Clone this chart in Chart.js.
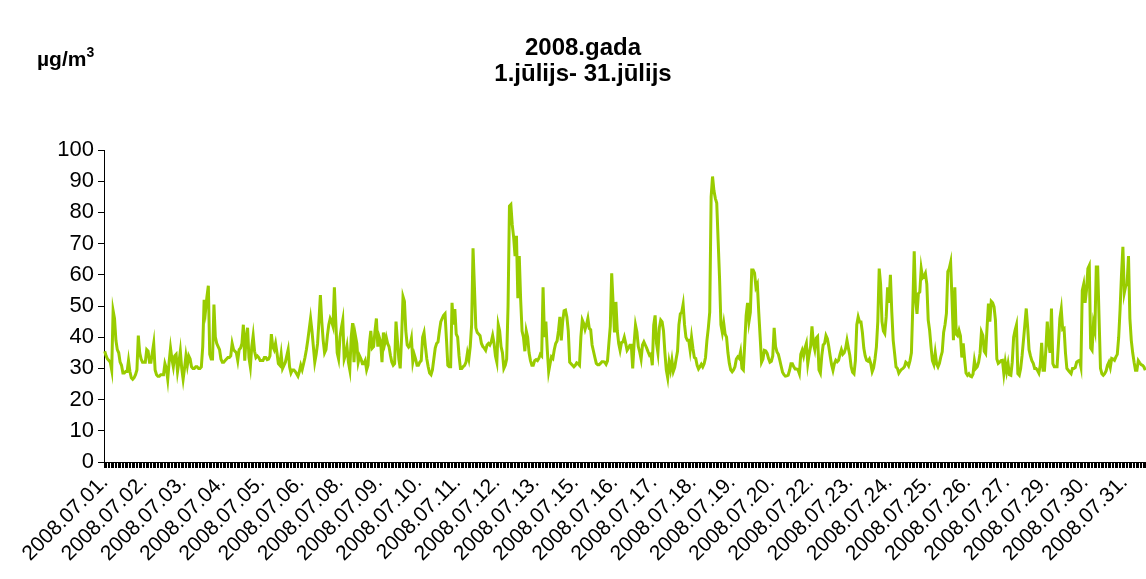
<!DOCTYPE html>
<html><head><meta charset="utf-8">
<script src="https://cdn.jsdelivr.net/npm/chart.js@4"></script>
<style>
html,body{margin:0;padding:0;background:#fff;}
#wrap{position:relative;width:1146px;height:579px;overflow:hidden;}
#title{position:absolute;left:0;width:1166px;top:34px;text-align:center;font:bold 24px "Liberation Sans",Arial,sans-serif;line-height:26px;color:#000;}
#unit{position:absolute;left:37px;top:47px;font:bold 21px "Liberation Sans",Arial,sans-serif;line-height:24px;color:#000;}
#unit sup{font-size:14px;line-height:0;vertical-align:9px;}
canvas{position:absolute;left:0;top:0;}
</style></head>
<body>
<div id="wrap">
<canvas id="c" width="1146" height="579"></canvas>
<div id="title">2008.gada<br>1.jūlijs- 31.jūlijs</div>
<div id="unit">µg/m<sup>3</sup></div>
</div>
<script>
const days = ['2008.07.01.','2008.07.02.','2008.07.03.','2008.07.04.','2008.07.05.','2008.07.06.','2008.07.07.','2008.07.08.','2008.07.09.','2008.07.10.','2008.07.11.','2008.07.12.','2008.07.13.','2008.07.14.','2008.07.15.','2008.07.16.','2008.07.17.','2008.07.18.','2008.07.19.','2008.07.20.','2008.07.21.','2008.07.22.','2008.07.23.','2008.07.24.','2008.07.25.','2008.07.26.','2008.07.27.','2008.07.28.','2008.07.29.','2008.07.30.','2008.07.31.'];
const hoursPerDay = 24;
const labelStep = 28;
const yTicks = [0,10,20,30,40,50,60,70,80,90,100];

// hourly values, µg/m3
const week1 = [
35.5,34,33,32.5,32,29.5,48.5,46,39,36,35,32,31,28.5,28.5,29,29,32.5,29,27,26.5,27,28,29.5,
40.5,35,33,32,32,32,36,35.5,32,32,35,38,29.5,28,27.5,27.5,28,28,28,31.5,30,26.5,32,36.5,
33,30.5,34,34.5,29,32,35.5,30,26.5,30,34,31,34,33,30.5,30,30,30.5,30.5,30,30,30.5,37,52,
48.5,53,56.5,34.5,33,33,50.5,40,38,37,36,33,32,32,32.5,33,33.5,33.5,34,38,36,35.5,35,32.5,
36,36.5,38,44,32.5,40,43,33.5,30.5,37,40.5,35.5,33.5,34,33.5,32.5,32.5,32.5,33.5,33.5,32.8,33,34,41,
37,36,38,35,31.5,31,34.5,30,31,32,34,36,30.5,28.5,29.5,29.5,29,28.3,27.5,29,31,29.6,31.5,33.5,
36,39,42.5,46,42,37,32,34.5,38,45.5,53.5,45,39,35,36,40.5,44,46,45,43.5,56,45,35,33
];
const week2 = [
40,43,45.5,33,34.5,37,32,29.5,40,44.5,32,40.5,38,32,34,33,31.5,31.5,32.5,29.5,31,38,42,36.5,
37,42,46,37,40,38.5,32,41.5,38,40,38,37,34.2,32,31,31.5,45,39,33,30,40,53,51.5,42,
37.5,36.8,37.4,39.6,32.1,34.5,33,31,31,32,32.5,40,41.5,37,33,30.5,28.5,28,29.5,33,36.5,38,38.5,42,
45,46,47,47.5,39.5,31,30.5,30.5,51,44,49,41,40,34,30,30,30.6,31,32,35,33,37,44,68.5,
56,43,41.5,41,40.5,38,37,36.5,35.8,37.5,38,37.5,38.5,40.5,38,34,32,44,42,37,35,30,31,33,
50,82,82.5,76,72,66,72.5,52.5,66,52,42,40,35.5,42,40,35,32.5,31,31,32.5,32.8,32.5,33.2,34.5,
34,56,40,45,36,29,31.5,33.7,33.2,36,38,38.8,42,46.5,39,45,48.5,48.7,46.5,42,32,31.5,31,30.5
];
const week3 = [
31,31.8,31.5,31,40,45.5,44.4,42.5,44,46,42.8,42.4,37.5,35.5,33.5,31.6,31.2,31.2,31.6,32.1,32.1,32,31.3,32.4,
38,43.5,60.5,51,41.5,51.3,42,38,35.8,38.3,38.5,40,38,35.8,36.5,37.4,37.4,30,38,43.9,41.7,37,35.3,33,
37.5,38.5,37.5,36.5,35.3,34.2,34.6,31,43.9,47,38,35,43,45.5,44.9,42,35,29.5,27,32,29.5,32.6,29,30.3,
33,35.5,44,47.5,48,50.5,44,40,39,39,35.8,40,36.4,33.5,33.2,31,29.8,30.5,31.3,30.5,31.5,33.5,39,43,
48,85,91.5,87,84.5,83,71,59,44,41.5,44.5,41,40,35,31.6,29.5,28.9,29.5,30.5,33,33.7,33.2,35.3,30,
29.5,38,47,51,45,48,61.5,61.5,60.5,56,57,48,40,32,33,35.8,35.6,34.8,33.2,32,32.3,34,43,37,
35.3,34.5,32.7,30.7,28.8,28,27.5,27.6,27.8,29.4,31.5,31.5,30.5,29.8,29.8,29.6,28.3,34.5,35.8,34,36.5,38,31.5,34.5
];
const week4 = [
37,43.5,38,36,39.7,40.2,29.5,28.5,34,37.5,38,40.5,39.5,37,34,31.2,29.4,31.5,32.6,32.1,32.6,34.5,36,34.5,
35,36.4,39,36.5,34.2,30.5,28.8,28.3,32.5,44,46.5,44.9,44.9,41.5,36.5,34,32.6,32.3,33,31.5,29,30.2,33,36.9,
45,62,57,45,42,41.2,46.5,56,51,60,48,39,34.8,30.5,30,28.5,29.2,29.7,30,30.5,32,31.6,30.8,32.5,
35,50,67.5,52,47.5,54,54.5,62,59,59.5,60.5,57,45.5,42.2,37,32.5,31.3,35,31.5,30.5,31.6,33.7,35.3,41.5,
44,47.6,61,62,64,52,39,56,41,40.5,42.2,40.5,33.5,38,33,28.5,27.8,28.3,27.5,27.3,28.2,32.5,30,30.5,
32,34.8,41.7,40.6,35.5,34.8,43,50.8,45,51.5,51,49.7,45.5,33,31.6,32,32.5,32.6,28.3,32,29,31.5,28,27.8,
32,40,42.2,43.9,28.3,27.8,30,34,39,44,49.2,43.3,36,34,32.5,31.6,30,30,29.4,28.5,31,38.2,29.4,29.4
];
const week5 = [
36,45,38,35,49.2,31.5,30.5,30.5,30.5,38,46,49,42.5,42.8,35,30,29.4,28.8,28.3,30,30,30.3,32,32.4,
32.6,30.5,55,57,51,55,62,63,36.5,35.8,44.4,42.2,62.5,62.5,46,30,28.3,27.8,28.3,29.2,31,32,30.3,33.2,
33,32.6,33.7,34.5,40,49,60,69,54.2,56.4,57,66,46,39,35,32,29.4,29.4,32.5,31.8,31.2,31,30.5,29.4
];

const values = [].concat(week1, week2, week3, week4, week5);
const categories = [];
days.forEach(d => { for (let h = 0; h < hoursPerDay; h++) categories.push(d); });

const FONT = '"Liberation Sans", Arial, sans-serif';

new Chart(document.getElementById('c'), {
  type: 'line',
  data: {
    labels: categories,
    datasets: [{
      data: values,
      borderColor: '#99CC00',
      borderWidth: 3,
      pointRadius: 0,
      tension: 0,
      fill: false
    }]
  },
  options: {
    responsive: false,
    animation: false,
    devicePixelRatio: 1,
    layout: { padding: { top: 150, left: 0, right: 0, bottom: 0 } },
    plugins: { legend: { display: false }, tooltip: { enabled: false }, title: { display: false } },
    scales: {
      x: {
        type: 'category',
        offset: true,
        grid: { display: true, drawOnChartArea: false, drawTicks: true, tickLength: 6, color: '#000', lineWidth: 1, offset: true },
        border: { display: true, color: '#000', width: 1 },
        ticks: {
          autoSkip: false, maxRotation: 45, minRotation: 45, padding: 2, color: '#000',
          font: { family: FONT, size: 21 },
          callback: (v, i) => (i % labelStep === 0 ? categories[i] : '')
        },
        afterFit: s => { s.height = 117; s.paddingLeft = 0; s.paddingRight = 0; }
      },
      y: {
        min: yTicks[0], max: yTicks[yTicks.length - 1],
        afterBuildTicks: s => { s.ticks = yTicks.map(v => ({ value: v })); },
        ticks: { autoSkip: false, color: '#000', font: { family: FONT, size: 22 }, padding: 4 },
        grid: { drawOnChartArea: false, drawTicks: true, tickLength: 6, color: '#000' },
        border: { display: true, color: '#000', width: 1 },
        afterFit: s => { s.width = 104; s.paddingTop = 0; s.paddingBottom = 0; }
      }
    }
  }
});
</script>
</body></html>
